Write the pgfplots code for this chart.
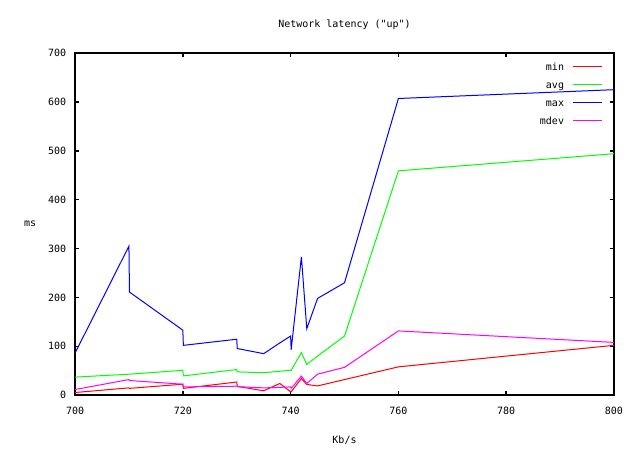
\documentclass[border=0pt]{standalone}
\usepackage{fontspec}
\setmainfont{DejaVu Sans Mono}[Ligatures=TeXOff]
\usepackage{pgfplots}
\usepackage{pgfplotstable}
\pgfplotsset{compat=1.18}
\usetikzlibrary{calc}
\definecolor{gpred}{RGB}{255,0,0}
\definecolor{gpgreen}{RGB}{0,255,0}
\definecolor{gpblue}{RGB}{0,0,255}
\definecolor{gpmag}{RGB}{255,0,255}

% ping statistics per bandwidth step
\pgfplotstableread{
x     min   avg    max    mdev
700   5.5   37     86     11.6
710   15    43     305    32
710.1 14    43     211    30
720   22.5  51     133    22.5
720.1 14    39.5   102    17
730   27    52.5   114.5  18.4
730.1 18    47.7   95.5   17.5
735   9     46     85     15
738   24    49     107    16
740   7     51     121    17
740.1 7     51     93     14
742   34    87     283    39
743   22    63     136    24
745   19    80     198    43
750   32    121    230    57
760   58    459    607    131.5
800   102   494    625    108
}\latency

\begin{document}
\begin{tikzpicture}
\begin{axis}[
    scale only axis, width=404pt, height=256.5pt,
    xmin=700, xmax=800, ymin=0, ymax=700,
    xtick={700,720,...,800}, ytick={0,100,...,700},
    font=\fontsize{7.5}{9}\selectfont,
    /pgf/number format/assume math mode=true,
    /pgf/number format/1000 sep={},
    tick align=inside, major tick length=3pt,
    tick style={black, line width=1.1pt},
    axis line style={line width=1.3pt},
    xticklabel style={anchor=center, yshift=-12pt, inner sep=0pt},
    yticklabel style={anchor=east, xshift=-6.5pt, inner sep=0pt},
    every axis title shift=0pt,
    title={Network latency ("up")},
    title style={at={(axis description cs:0.5,1.082)}, anchor=center, inner sep=0pt},
    xlabel={Kb/s},
    xlabel style={at={(axis description cs:0.5,-0.1316)}, anchor=center, inner sep=0pt},
    ylabel={ms},
    ylabel style={rotate=-90, at={(axis description cs:-0.0835,0.5)}, anchor=center, inner sep=0pt},
    legend cell align=right, legend plot pos=right,
    legend image code/.code={\draw[#1] (0pt,0pt) -- (22pt,0pt);},
    legend style={draw=none, fill=none, at={(axis description cs:1,1)},
      anchor=north east, xshift=-8.5pt, yshift=-5.5pt, inner sep=0pt,
      row sep=4.5pt, column sep=6pt,
      nodes={inner sep=0pt, text height=7.5pt, text depth=1.5pt}},
    every axis plot/.append style={line width=0.75pt, sharp plot},
]
\addplot[color=gpred] table[x=x, y=min] {\latency};
\addplot[color=gpgreen] table[x=x, y=avg] {\latency};
\addplot[color=gpblue] table[x=x, y=max] {\latency};
\addplot[color=gpmag] table[x=x, y=mdev] {\latency};
\legend{min, avg, max, mdev}
\end{axis}
\path ($(current axis.south west)+(-56.25pt,-41.25pt)$) rectangle ($(current axis.north east)+(19.5pt,39.75pt)$);
\end{tikzpicture}
\end{document}
